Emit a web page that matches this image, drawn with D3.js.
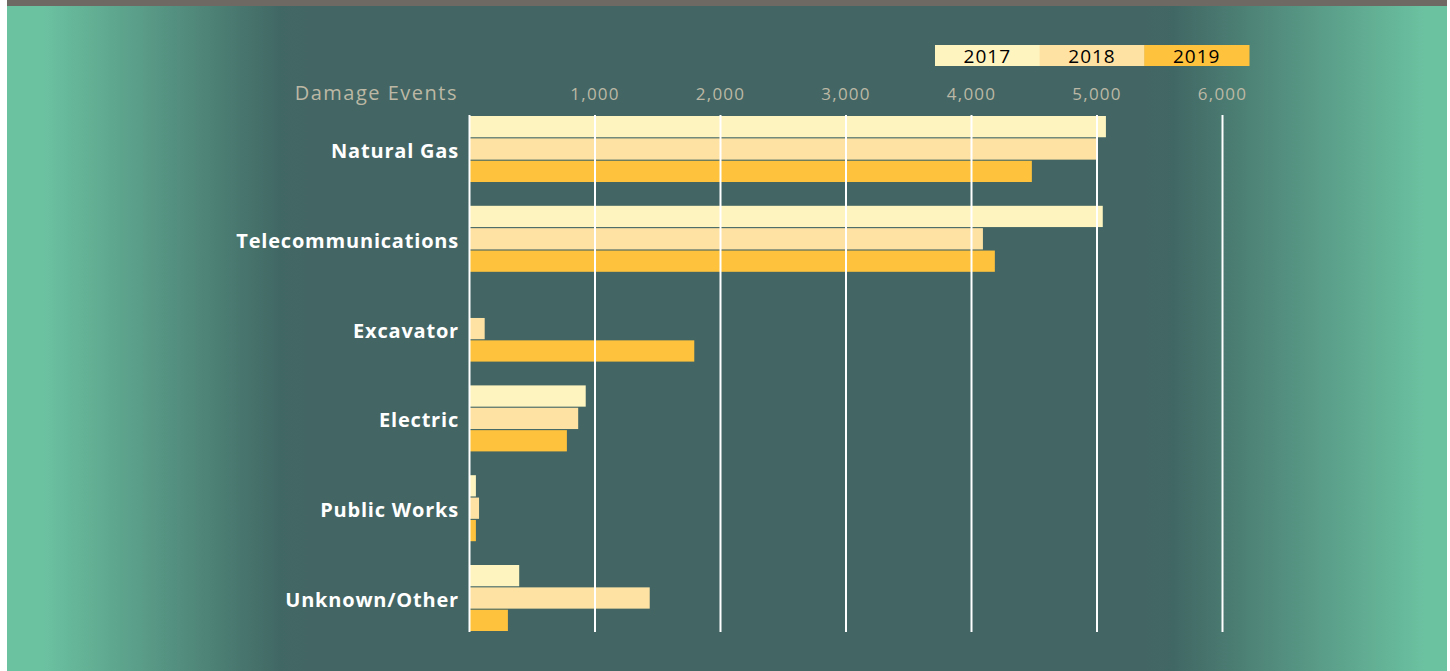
<!DOCTYPE html>
<html>
<head>
<meta charset="utf-8">
<script src="https://cdn.jsdelivr.net/npm/d3@7"></script>
<style>
  body { margin: 0; background: #fff; }
  svg { display: block; }
</style>
</head>
<body>
<svg id="chart" width="1450" height="671"></svg>
<script>
// data
const categories = ['Natural Gas', 'Telecommunications', 'Excavator', 'Electric', 'Public Works', 'Unknown/Other'];
const years = ['2017', '2018', '2019'];
const v2017 = [5075, 5050, 0, 930, 55, 400];
const v2018 = [5000, 4095, 125, 870, 80, 1440];
const v2019 = [4485, 4190, 1795, 780, 55, 310];
const xTicks = [1000, 2000, 3000, 4000, 5000, 6000];
const colors = ['#fef4bf', '#fee2a3', '#fec23d'];

const series = [v2017, v2018, v2019];
const rows = categories.map((c, i) => ({ cat: c, vals: years.map((y, j) => ({ year: y, v: series[j][i] })) }));

const svg = d3.select('#chart');
const W = +svg.attr('width'), H = +svg.attr('height');

// background
const defs = svg.append('defs');
const grad = defs.append('linearGradient').attr('id', 'bg').attr('x1', '0%').attr('x2', '100%');
[[0, '#6bc2a1'], [0.025, '#6bc2a1'], [0.19, '#416764'], [0.21, '#436664'],
 [0.79, '#436664'], [0.81, '#416764'], [0.985, '#6bc2a1'], [1, '#6bc2a1']]
  .forEach(s => grad.append('stop').attr('offset', s[0]).attr('stop-color', s[1]));

svg.append('rect').attr('x', 7).attr('y', 0).attr('width', 1440).attr('height', H).attr('fill', 'url(#bg)');
svg.append('rect').attr('x', 7).attr('y', 0).attr('width', 1440).attr('height', 6).attr('fill', '#6f6964');

const margin = { left: 469, top: 115 };
const plotW = 753, plotH = 517;

const x = d3.scaleLinear().domain([0, 6000]).range([0, plotW]);
const y = d3.scaleBand().domain(categories).range([0, 515]).paddingInner(0.265).paddingOuter(0);
const yInner = d3.scaleBand().domain(years).range([0, y.bandwidth()]).paddingInner(0.05);

const g = svg.append('g').attr('transform', 'translate(' + margin.left + ',' + margin.top + ')');

// bars
const groups = g.selectAll('g.grp').data(rows).enter().append('g')
  .attr('class', 'grp')
  .attr('transform', d => 'translate(0,' + (y(d.cat) + 1) + ')');

groups.selectAll('rect').data(d => d.vals.filter(v => v.v > 0)).enter().append('rect')
  .attr('x', 1)
  .attr('y', d => yInner(d.year))
  .attr('width', d => x(d.v) - 1)
  .attr('height', yInner.bandwidth())
  .attr('fill', d => colors[years.indexOf(d.year)]);

// grid lines on top
const xAxis = d3.axisTop(x).tickValues([0].concat(xTicks)).tickSize(-plotH).tickFormat(d => d === 0 ? '' : d3.format(',')(d));
const gX = g.append('g').call(xAxis);
gX.select('.domain').remove();
gX.selectAll('.tick line').attr('stroke', '#ffffff').attr('stroke-width', 2);
gX.selectAll('.tick text')
  .attr('y', -15)
  .attr('fill', '#bcb8a5')
  .attr('font-family', 'Open Sans, sans-serif')
  .attr('font-size', 17)
  .attr('letter-spacing', 1.2);

// category labels
g.selectAll('text.cat').data(categories).enter().append('text')
  .attr('class', 'cat')
  .attr('x', -10)
  .attr('y', d => y(d) + 43)
  .attr('text-anchor', 'end')
  .attr('fill', '#ffffff')
  .attr('font-family', 'Open Sans, sans-serif')
  .attr('font-weight', 'bold')
  .attr('font-size', 20)
  .attr('letter-spacing', 0.8)
  .text(d => d);

// axis title
svg.append('text')
  .attr('x', 458).attr('y', 100)
  .attr('text-anchor', 'end')
  .attr('fill', '#bcb8a5')
  .attr('font-family', 'Open Sans, sans-serif')
  .attr('font-size', 20)
  .attr('letter-spacing', 1.5)
  .text('Damage Events');

// legend
const legX = d3.scaleBand().domain(years).range([935, 1249]);
const leg = svg.append('g').selectAll('g').data(years).enter().append('g');
leg.append('rect')
  .attr('x', d => legX(d)).attr('y', 45)
  .attr('width', legX.bandwidth() + 0.5).attr('height', 21)
  .attr('fill', (d, i) => colors[i]);
leg.append('text')
  .attr('x', d => legX(d) + legX.bandwidth() / 2)
  .attr('y', 63)
  .attr('text-anchor', 'middle')
  .attr('fill', '#000')
  .attr('font-family', 'Open Sans, sans-serif')
  .attr('font-size', 19)
  .attr('letter-spacing', 1)
  .text(d => d);
</script>
</body>
</html>
